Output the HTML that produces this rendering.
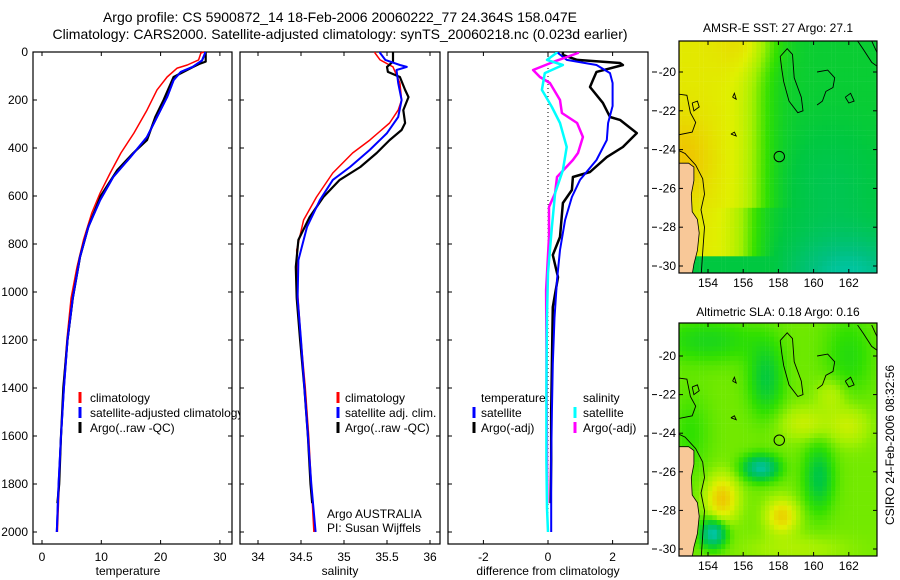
<!DOCTYPE html>
<html><head><meta charset="utf-8"><style>
body{margin:0;background:#fff;}
svg{display:block;font-family:"Liberation Sans",sans-serif;}
text{fill:#000;}
</style></head><body>
<svg id="fig" width="900" height="580" viewBox="0 0 900 580">
<defs>
<clipPath id="clip1"><rect x="33" y="52" width="207" height="493"/></clipPath>
<clipPath id="m1clip"><rect x="679" y="41" width="198" height="232"/></clipPath>
<clipPath id="m2clip"><rect x="679" y="323" width="198" height="233"/></clipPath>
</defs>
<g font-size="14">
<text x="340" y="22" text-anchor="middle">Argo profile: CS 5900872_14 18-Feb-2006 20060222_77 24.364S 158.047E</text>
<text x="340" y="39" text-anchor="middle">Climatology: CARS2000. Satellite-adjusted climatology: synTS_20060218.nc (0.023d earlier)</text>
</g>
<g id="axes" font-size="12"></g>
<g id="series"></g>
<g id="maps"></g>
<g font-size="12" clip-path="url(#clip1)">
<line x1="80" y1="392" x2="80" y2="403" stroke="#f00" stroke-width="3"/><text x="90" y="402">climatology</text>
<line x1="80" y1="407" x2="80" y2="418" stroke="#00f" stroke-width="3"/><text x="90" y="417">satellite-adjusted climatology</text>
<line x1="80" y1="422" x2="80" y2="433" stroke="#000" stroke-width="3"/><text x="90" y="432">Argo(..raw -QC)</text>
</g>
<g font-size="12">
<line x1="338" y1="392" x2="338" y2="403" stroke="#f00" stroke-width="3"/><text x="345" y="402">climatology</text>
<line x1="338" y1="407" x2="338" y2="418" stroke="#00f" stroke-width="3"/><text x="345" y="417">satellite adj. clim.</text>
<line x1="338" y1="422" x2="338" y2="433" stroke="#000" stroke-width="3"/><text x="345" y="432">Argo(..raw -QC)</text>
<text x="327" y="518">Argo AUSTRALIA</text>
<text x="327" y="532">PI: Susan Wijffels</text>
</g>
<g font-size="12">
<text x="481" y="402">temperature</text>
<line x1="474" y1="407" x2="474" y2="418" stroke="#00f" stroke-width="3"/><text x="481" y="417">satellite</text>
<line x1="474" y1="422" x2="474" y2="433" stroke="#000" stroke-width="3"/><text x="481" y="432">Argo(-adj)</text>
<text x="583" y="402">salinity</text>
<line x1="575" y1="407" x2="575" y2="418" stroke="#0ff" stroke-width="3"/><text x="583" y="417">satellite</text>
<line x1="575" y1="422" x2="575" y2="433" stroke="#f0f" stroke-width="3"/><text x="583" y="432">Argo(-adj)</text>
</g>
<g font-size="12">
<text x="128" y="575" text-anchor="middle">temperature</text>
<text x="340" y="575" text-anchor="middle">salinity</text>
<text x="548" y="575" text-anchor="middle">difference from climatology</text>
<text x="778" y="32" text-anchor="middle">AMSR-E SST: 27 Argo: 27.1</text>
<text x="778" y="316" text-anchor="middle">Altimetric SLA: 0.18 Argo: 0.16</text>
<text transform="translate(894,445) rotate(-90)" text-anchor="middle">CSIRO 24-Feb-2006 08:32:56</text>
</g>
</svg>
<script>
// ---- data ----
const tempClimDepth=[0,4,33,54,67,104,158,242,338,421,504,588,671,783,896,1025,1200,1400,1600,1800,2000];
const tempClim=[27.3,26.8,26.4,24.5,22.8,21.1,19.4,17.7,15.5,13.3,11.5,9.8,8.4,7.0,5.9,4.9,4.2,3.6,3.2,2.9,2.6];
const tempSatDepth=[0,4,35,62,83,117,188,271,354,438,521,617,729,854,1025,1200,1400,1600,1800,2000];
const tempSat=[27.5,27.5,27.0,25.4,23.4,22.2,21.1,19.4,17.7,14.9,12.0,9.8,7.8,6.4,5.2,4.3,3.7,3.2,2.8,2.5];
const tempArgoDepth=[0,4,40,50,62,104,200,271,367,421,492,600,729,854,1025,1200,1400,1600,1800,1880];
const tempArgo=[27.6,27.6,27.6,26.5,25.5,22.2,20.5,19.1,17.7,15.4,12.7,9.9,7.8,6.4,5.2,4.3,3.6,3.2,2.9,2.6];
const salClimDepth=[0,4,33,62,129,200,242,296,367,421,504,604,700,825,1000,1200,1400,1600,1800,2000];
const salClim=[35.36,35.36,35.42,35.57,35.65,35.67,35.63,35.53,35.30,35.10,34.87,34.68,34.53,34.45,34.46,34.50,34.55,34.59,34.62,34.65];
const salSatDepth=[0,4,33,54,62,75,129,200,271,338,408,479,533,617,729,867,1025,1200,1400,1600,1800,2000];
const salSat=[35.42,35.42,35.48,35.65,35.73,35.61,35.63,35.67,35.63,35.50,35.30,35.07,34.87,34.72,34.57,34.47,34.46,34.50,34.54,34.58,34.62,34.67];
const salArgoDepth=[0,4,40,62,83,104,158,188,242,296,325,367,421,479,533,604,688,783,896,1025,1200,1400,1600,1800,1880];
const salArgo=[35.57,35.57,35.57,35.50,35.51,35.65,35.71,35.75,35.69,35.71,35.67,35.53,35.38,35.19,34.95,34.76,34.60,34.47,34.44,34.45,34.49,34.54,34.58,34.61,34.63];
const dTSatDepth=[0,4,33,54,88,129,225,296,367,450,533,604,700,825,950,1108,1300,1500,1700,1900,2000];
const dTSat=[0.31,0.31,0.58,1.5,1.92,2.0,2.0,1.86,1.82,1.5,0.99,0.74,0.53,0.37,0.28,0.2,0.15,0.12,0.1,0.1,0.1];
const dTArgoDepth=[0,12,33,46,54,83,117,146,212,271,283,338,396,438,500,521,575,629,771,846,938,1063,1300,1500,1700,1880];
const dTArgo=[0.46,0.46,0.9,2.23,2.32,1.5,1.39,1.3,1.7,1.92,2.23,2.75,2.32,1.82,1.3,0.77,0.74,0.46,0.37,0.15,0.31,0.15,0.12,0.1,0.1,0.08];
const dSSatDepth=[0,4,33,54,88,158,229,296,396,492,588,729,921,1100,1400,1700,1900,2000];
const dSSat=[0.26,0.26,-0.03,0.46,-0.1,-0.19,0.12,0.37,0.58,0.46,0.22,0.12,0.0,-0.03,-0.05,-0.05,-0.03,0.0];
const dSArgoDepth=[0,4,42,75,104,129,200,254,296,354,421,450,521,588,646,771,992,1200,1500,1700,1880];
const dSArgo=[0.93,0.93,0.15,-0.46,-0.25,0.06,0.37,0.43,0.9,1.08,0.93,0.77,0.28,0.22,0.03,0.03,-0.06,-0.05,-0.04,-0.03,-0.02];
const depthTicks=[0,200,400,600,800,1000,1200,1400,1600,1800,2000];
const tempTicks=[0,10,20,30];
const salTicks=[34,34.5,35,35.5,36];
const diffTicks=[-2,0,2];
const lonTicks=[154,156,158,160,162];
const latTicks=[-20,-22,-24,-26,-28,-30];

// ---- scales ----
const yD=d=>52+d*0.24;
const xT=t=>42+t*5.93;
const xS=s=>258+(s-34)*86;
const xDf=v=>548+v*32.3;
const mLon=l=>708+(l-154)*17.6;
const mLat1=l=>72+(-20-l)*19.4;
const mLat2=l=>356+(-20-l)*19.3;

const NS='http://www.w3.org/2000/svg';
function mk(tag,attrs,parent){const e=document.createElementNS(NS,tag);for(const k in attrs)e.setAttribute(k,attrs[k]);parent.appendChild(e);return e;}
const axes=document.getElementById('axes');
const series=document.getElementById('series');
const maps=document.getElementById('maps');

function panel(x0,x1,name,xt,xf,labels){
  const r=mk('rect',{x:x0,y:52,width:x1-x0,height:492,fill:'none',stroke:'#000','stroke-width':1.2},axes);
  
  
  xt.forEach(v=>{const x=xf(v);
    mk('line',{x1:x,y1:544,x2:x,y2:540,stroke:'#000'},axes);
    mk('line',{x1:x,y1:52,x2:x,y2:56,stroke:'#000'},axes);
    const t=mk('text',{x:x,y:561,'text-anchor':'middle'},axes);t.textContent=String(v);
    
    
  });
  depthTicks.forEach(d=>{const y=yD(d);
    mk('line',{x1:x0,y1:y,x2:x0+4,y2:y,stroke:'#000'},axes);
    mk('line',{x1:x1,y1:y,x2:x1-4,y2:y,stroke:'#000'},axes);
    if(labels){const t=mk('text',{x:28,y:y+4,'text-anchor':'end'},axes);t.textContent=String(d);
      
      }
  });
}
panel(33,232,'temperature-panel',tempTicks,xT,true);
panel(240,440,'salinity-panel',salTicks,xS,false);
panel(448,648,'difference-panel',diffTicks,xDf,false);
// phantom axis ticks
[...latTicks.map(mLat1),...latTicks.slice(1).map(mLat2)].forEach(y=>mk('line',{x1:652,y1:y,x2:657,y2:y,stroke:'#000'},axes));
mk('line',{x1:548,y1:52,x2:548,y2:532,stroke:'#000','stroke-dasharray':'1,3'},axes);

function line(ds,vs,xf,color,w,name){
  const p=ds.map((d,i)=>xf(vs[i]).toFixed(1)+','+yD(d).toFixed(1)).join(' ');
  const e=mk('polyline',{points:p,fill:'none',stroke:color,'stroke-width':w,'stroke-linejoin':'round'},series);
  
  
}
line(tempClimDepth,tempClim,xT,'#f00',1.5,'temp-climatology-line');
line(tempSatDepth,tempSat,xT,'#00f',2,'temp-satellite-line');
line(tempArgoDepth,tempArgo,xT,'#000',2.2,'temp-argo-line');
line(tempSatDepth,tempSat,xT,'#00f',2,'temp-satellite-line-top');
line(salClimDepth,salClim,xS,'#f00',1.5,'sal-climatology-line');
line(salArgoDepth,salArgo,xS,'#000',2.2,'sal-argo-line');
line(salSatDepth,salSat,xS,'#00f',2,'sal-satellite-line');
line(dTArgoDepth,dTArgo,xDf,'#000',2.5,'diff-temp-argo-line');
line(dTSatDepth,dTSat,xDf,'#00f',2,'diff-temp-satellite-line');
line(dSArgoDepth,dSArgo,xDf,'#f0f',2.5,'diff-sal-argo-line');
line(dSSatDepth,dSSat,xDf,'#0ff',2.5,'diff-sal-satellite-line');

// ---- maps ----
const stops=[[0,[0,128,255]],[0.15,[0,208,240]],[0.3,[0,192,128]],[0.42,[0,200,64]],[0.52,[48,224,0]],[0.62,[160,240,0]],[0.72,[224,240,0]],[0.85,[240,192,0]],[1,[240,144,0]]];
function cmap(v){v=Math.max(0,Math.min(1,v));for(let i=1;i<stops.length;i++){if(v<=stops[i][0]){const a=stops[i-1],b=stops[i];const f=(v-a[0])/(b[0]-a[0]);const c=a[1].map((x,j)=>Math.round(x+(b[1][j]-x)*f));return 'rgb('+c.join(',')+')';}}return 'rgb(240,144,0)';}
const g=(lo,la,cl,ca,sl,sa)=>Math.exp(-((lo-cl)**2/(2*sl*sl)+(la-ca)**2/(2*sa*sa)));
function sst(lo,la){
  let west=1/(1+Math.exp((lo-156.8+ (la<-27?0.6:0))*1.6));
  let v=0.44+0.3*west;
  v+=0.1*g(lo,la,152.5,-24.5,1.2,1.5)+0.08*g(lo,la,156.5,-18.5,1.2,1);
  v-=0.18*g(lo,la,162,-30.5,2.5,1.5)+0.05*g(lo,la,161,-26,2,2);
  if(la<-29.6)v=Math.min(v,0.42);
  return v;
}
function sla(lo,la){
  let v=0.58;
  v-=0.32*g(lo,la,157,-25.8,0.7,0.45)+0.35*g(lo,la,154.3,-29.2,0.5,0.5);
  v+=0.25*g(lo,la,154.8,-27.4,0.6,0.8)+0.22*g(lo,la,158.2,-28.3,0.6,0.6);
  v-=0.15*g(lo,la,157.3,-21.2,0.7,1.3)+0.17*g(lo,la,160.3,-26.3,0.6,1.2);
  v+=0.1*g(lo,la,159.5,-23.5,1,0.6)+0.1*g(lo,la,162,-23.6,0.8,0.7)+0.08*g(lo,la,161,-22,0.6,0.6);
  v-=0.1*g(lo,la,154,-19.2,2,0.8)+0.08*g(lo,la,162,-20,1,1.5)+0.06*g(lo,la,153,-24,0.8,1.5);
  v+=0.06*g(lo,la,159,-30,2,0.5);
  return v;
}
function drawMap(latf,y0,y1,fn,clip,name){
  const grp=mk('g',{'clip-path':'url(#'+clip+')'},maps);
  
  
  const dl=0.25;
  for(let lo=152.25;lo<163.75;lo+=dl){
    for(let la=-18.25;la>-30.6;la-=dl){
      const x=mLon(lo),y=latf(la);
      mk('rect',{x:x.toFixed(1),y:y.toFixed(1),width:4.6,height:5.1,fill:cmap(fn(lo+dl/2,la-dl/2))},grp);
    }
  }
  const P=(pts)=>pts.map(p=>mLon(p[0]).toFixed(1)+','+latf(p[1]).toFixed(1)).join(' ');
  const land=[[152,-24.7],[152.9,-24.7],[153.2,-24.9],[153.2,-25.6],[153.05,-26.3],[153.1,-27.2],[153.4,-27.6],[153.5,-28.3],[153.4,-29.2],[153.2,-29.9],[153.0,-31],[152,-31]];
  mk('polygon',{points:P(land),fill:'#f8c898',stroke:'#000','stroke-width':0.8},grp);
  const c=(pts)=>mk('polyline',{points:P(pts),fill:'none',stroke:'#000','stroke-width':0.9},grp);
  c([[152,-21.1],[152.8,-21.2],[153,-22.1],[153.3,-22.6],[153.1,-23.1],[152,-23.3]]);
  c([[152,-23.9],[152.7,-24.2],[153.3,-24.8],[153.7,-25.5],[153.8,-26.3],[153.6,-27.1],[153.8,-28.0],[153.7,-29.3],[153.6,-30.6]]);
  c([[158.1,-19.2],[158.5,-18.8],[158.8,-19.1],[158.9,-20.3],[159.3,-21.3],[159.4,-22.0],[159.1,-22.1],[158.6,-21.5],[158.3,-20.5],[158.2,-19.9],[158.1,-19.2]]);
  c([[160.2,-20.0],[160.8,-19.9],[161.2,-20.3],[161.1,-20.8],[160.7,-21.0],[160.5,-21.5],[160.2,-21.7]]);
  c([[161.8,-21.3],[162.1,-21.1],[162.3,-21.5],[162.0,-21.6],[161.8,-21.3]]);
  c([[162.5,-18.4],[162.8,-18.8],[163.3,-19.5],[163.6,-19.7]]);
  c([[163.3,-18.4],[163.6,-19.0]]);
  c([[153.1,-21.6],[153.4,-21.5],[153.5,-21.8],[153.2,-22.0],[153.1,-21.6]]);
  c([[155.4,-21.3],[155.5,-21.1],[155.6,-21.4],[155.4,-21.3]]);
  c([[155.3,-23.2],[155.5,-23.1],[155.6,-23.3],[155.3,-23.2]]);
  mk('circle',{cx:mLon(158.05),cy:latf(-24.36),r:5.2,fill:'none',stroke:'#000','stroke-width':1},grp);
  const f=mk('rect',{x:679,y:y0,width:198,height:y1-y0,fill:'none',stroke:'#000','stroke-width':1.2},maps);
  
  
  lonTicks.forEach(l=>{const x=mLon(l);
    mk('line',{x1:x,y1:y0,x2:x,y2:y0+4,stroke:'#000'},maps);
    mk('line',{x1:x,y1:y1,x2:x,y2:y1-4,stroke:'#000'},maps);
    const t=mk('text',{x:x,y:y1+14,'text-anchor':'middle','font-size':12},maps);t.textContent=String(l);
    
    });
  latTicks.forEach(l=>{const y=latf(l);
    mk('line',{x1:679,y1:y,x2:683,y2:y,stroke:'#000'},maps);
    mk('line',{x1:877,y1:y,x2:873,y2:y,stroke:'#000'},maps);
    const t=mk('text',{x:676,y:y+4,'text-anchor':'end','font-size':12},maps);t.textContent=String(l);
    
    });
}
drawMap(mLat1,41,273,sst,'m1clip','sst-map');
drawMap(mLat2,323,556,sla,'m2clip','sla-map');
</script>
</body></html>
